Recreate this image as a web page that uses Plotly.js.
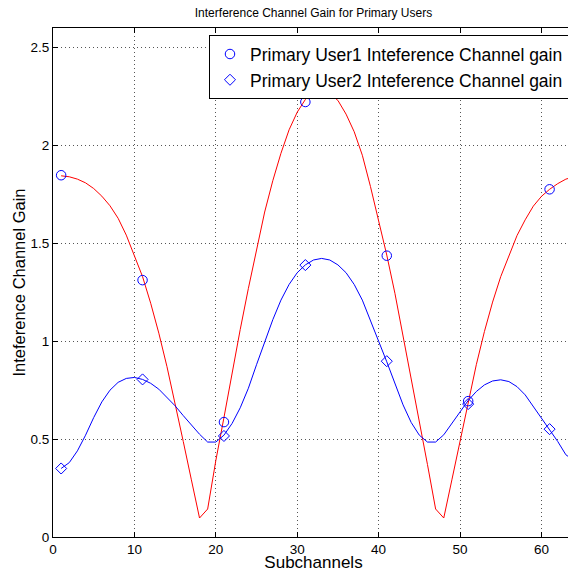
<!DOCTYPE html>
<html>
<head>
<meta charset="utf-8">
<script src="https://cdn.plot.ly/plotly-3.0.1.min.js"></script>
<style>
html,body{margin:0;padding:0;overflow:hidden;background:#fff;}
#chart{width:576px;height:572px;}
</style>
</head>
<body>
<div id="chart"></div>
<script>
// Subchannel indices for the continuous curves
const subchannels = [1,2,3,4,5,6,7,8,9,10,11,12,13,14,15,16,17,18,19,20,21,22,23,24,25,26,27,28,29,30,31,32,
  33,34,35,36,37,38,39,40,41,42,43,44,45,46,47,48,49,50,51,52,53,54,55,56,57,58,59,60,61,62,63,64];

// Red curve (Primary User1 gain over all subchannels)
const user1Curve = [1.845,1.840,1.828,1.809,1.780,1.741,1.692,1.628,1.542,1.440,1.330,1.194,1.041,0.870,0.684,0.488,
  0.292,0.097,0.143,0.390,0.610,0.840,1.060,1.270,1.470,1.660,1.820,1.960,2.080,2.170,2.235,2.270,
  2.280,2.265,2.230,2.160,2.070,1.950,1.790,1.620,1.440,1.245,1.030,0.810,0.590,0.370,0.143,0.097,
  0.292,0.488,0.695,0.880,1.050,1.200,1.330,1.440,1.540,1.620,1.690,1.740,1.776,1.805,1.828,1.840];

// Blue curve (Primary User2 gain over all subchannels)
const user2Curve = [0.350,0.380,0.440,0.520,0.610,0.690,0.750,0.790,0.810,0.815,0.805,0.785,0.755,0.715,0.670,0.620,
  0.570,0.525,0.485,0.485,0.520,0.580,0.660,0.760,0.880,1.000,1.110,1.210,1.290,1.350,1.390,1.415,
  1.423,1.415,1.390,1.350,1.290,1.210,1.110,1.000,0.895,0.785,0.675,0.585,0.520,0.485,0.485,0.522,
  0.582,0.641,0.697,0.743,0.777,0.797,0.803,0.794,0.768,0.726,0.666,0.607,0.551,0.488,0.420,0.390];

// Sampled subchannels (markers)
const sampleChannels = [1,11,21,31,41,51,61];
const user1Samples = [1.848,1.312,0.587,2.222,1.437,0.694,1.776];
const user2Samples = [0.350,0.805,0.516,1.389,0.898,0.679,0.551];

const seriesNames = ['Primary User1 Inteference Channel gain','Primary User2 Inteference Channel gain'];
const xTicks = [0,10,20,30,40,50,60];
const yTicks = [0,0.5,1,1.5,2,2.5];

const FONT = 'Liberation Sans, Arial, Helvetica, sans-serif';

const traces = [
  {x: subchannels, y: user1Curve, mode:'lines', line:{color:'#ff0000', width:1}, showlegend:false, hoverinfo:'skip'},
  {x: subchannels, y: user2Curve, mode:'lines', line:{color:'#0000ff', width:1}, showlegend:false, hoverinfo:'skip'},
  {x: sampleChannels, y: user1Samples, mode:'markers', name: seriesNames[0],
   marker:{symbol:'circle-open', size:9.5, color:'#0000ff', line:{width:1, color:'#0000ff'}}},
  {x: sampleChannels, y: user2Samples, mode:'markers', name: seriesNames[1],
   marker:{symbol:'diamond-open', size:8.5, color:'#0000ff', line:{width:1, color:'#0000ff'}}}
];

const axisCommon = {
  showline:true, linecolor:'#000', linewidth:1, mirror:'ticks',
  ticks:'inside', ticklen:5, tickcolor:'#000', tickwidth:1,
  showgrid:true, gridcolor:'#555', griddash:'1px,3px', gridwidth:1,
  zeroline:false, tickfont:{family:FONT, size:13.5, color:'#000'}
};

const layout = {
  width:576, height:572,
  margin:{l:53, r:2, t:28, b:35},
  paper_bgcolor:'#fff', plot_bgcolor:'#fff',
  font:{family:FONT, color:'#000'},
  title:{text:'Interference Channel Gain for Primary Users', font:{family:FONT, size:12, color:'#000'},
         x:0.5, xref:'paper', xanchor:'center', y:0.977, yref:'container', yanchor:'middle'},
  xaxis:Object.assign({}, axisCommon, {
    range:[0,64], tickvals:xTicks, ticktext:xTicks.map(String),
    title:{text:'Subchannels', font:{family:FONT, size:17, color:'#000'}, standoff:0}
  }),
  yaxis:Object.assign({}, axisCommon, {
    range:[0,2.6], tickvals:yTicks, ticktext:yTicks.map(String),
    title:{text:'Inteference Channel Gain', font:{family:FONT, size:16.5, color:'#000'}, standoff:0}
  }),
  legend:{x:0.2994, y:0.986, xanchor:'left', yanchor:'top', bgcolor:'#fff',
          bordercolor:'#000', borderwidth:1, font:{family:FONT, size:17.5, color:'#000'}},
  showlegend:true
};

Plotly.newPlot('chart', traces, layout, {staticPlot:true, displayModeBar:false});
</script>
</body>
</html>
